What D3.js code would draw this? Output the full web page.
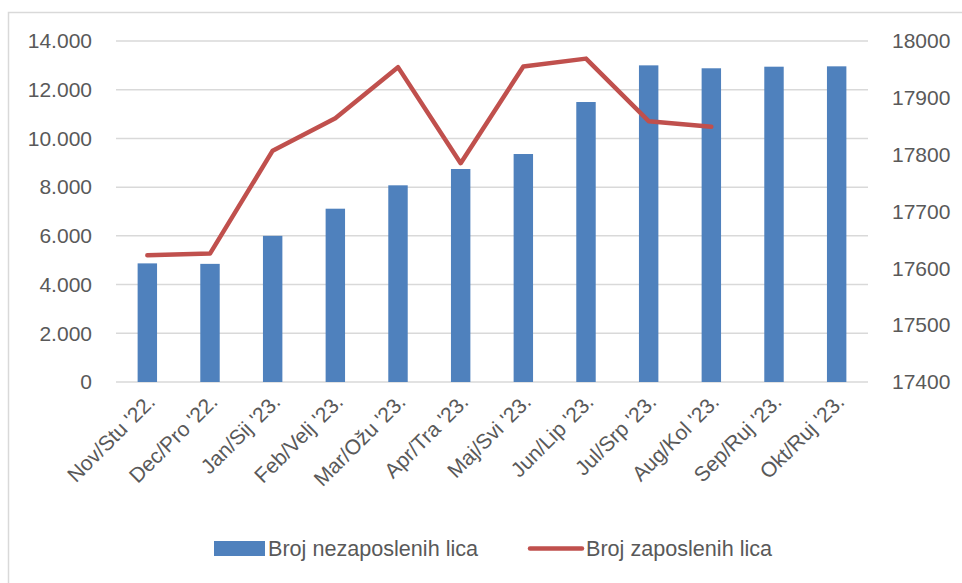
<!DOCTYPE html>
<html>
<head>
<meta charset="utf-8">
<script src="https://cdn.jsdelivr.net/npm/d3@7"></script>
<style>
  body { margin: 0; background: #fff; }
  svg { display: block; font-family: "Liberation Sans", Arial, sans-serif; }
</style>
</head>
<body>
<div id="chart"></div>
<script>
// months (Bosnian/Croatian labels)
const categories = ["Nov/Stu '22.", "Dec/Pro '22.", "Jan/Sij '23.", "Feb/Velj '23.", "Mar/Ožu '23.", "Apr/Tra '23.",
  "Maj/Svi '23.", "Jun/Lip '23.", "Jul/Srp '23.", "Aug/Kol '23.", "Sep/Ruj '23.", "Okt/Ruj '23."];
// Broj nezaposlenih lica (left axis)
const unemployed = [4870, 4850, 6000, 7115, 8075, 8745, 9360, 11495, 13000, 12880, 12945, 12960];
// Broj zaposlenih lica (right axis) - only first 10 months
const employed = [17623, 17626, 17807, 17864, 17954, 17785, 17955, 17969, 17859, 17849];
const leftTicks = [0, 2000, 4000, 6000, 8000, 10000, 12000, 14000];
const rightTicks = [17400, 17500, 17600, 17700, 17800, 17900, 18000];
const seriesNames = ["Broj nezaposlenih lica", "Broj zaposlenih lica"];

const W = 962, H = 583;
const plot = { left: 116, right: 868, top: 41, bottom: 382 };
const barColor = '#4F81BD', lineColor = '#C0504D', gridColor = '#D9D9D9', textColor = '#595959';

const svg = d3.select('#chart').append('svg')
  .attr('width', W)
  .attr('height', H);

// chart frame
svg.append('rect')
  .attr('x', 8.5).attr('y', 12.5)
  .attr('width', 1000).attr('height', 700)
  .attr('fill', 'none')
  .attr('stroke', gridColor)
  .attr('stroke-width', 1.5);

const x = d3.scaleBand().domain(categories).range([plot.left, plot.right]);
const yL = d3.scaleLinear().domain([0, 14000]).range([plot.bottom, plot.top]);
const yR = d3.scaleLinear().domain([17400, 18000]).range([plot.bottom, plot.top]);

const locale = d3.formatLocale({ decimal: ',', thousands: '.', grouping: [3], currency: ['', ''] });
const fmtL = locale.format(',d');

// gridlines
svg.append('g')
  .selectAll('line')
  .data(leftTicks)
  .join('line')
  .attr('x1', plot.left).attr('x2', plot.right)
  .attr('y1', d => yL(d)).attr('y2', d => yL(d))
  .attr('stroke', gridColor)
  .attr('stroke-width', 1.5);

// left axis
const axL = svg.append('g')
  .attr('transform', 'translate(' + plot.left + ',0)')
  .call(d3.axisLeft(yL).tickValues(leftTicks).tickFormat(fmtL).tickSize(0).tickPadding(24));
axL.select('.domain').remove();
axL.selectAll('text').attr('fill', textColor).style('font-size', '21px').style('font-family', 'Liberation Sans, Arial, sans-serif');

// right axis
const axR = svg.append('g')
  .attr('transform', 'translate(' + plot.right + ',0)')
  .call(d3.axisRight(yR).tickValues(rightTicks).tickFormat(d3.format('d')).tickSize(0).tickPadding(24));
axR.select('.domain').remove();
axR.selectAll('text').attr('fill', textColor).style('font-size', '21px').style('font-family', 'Liberation Sans, Arial, sans-serif');

// bars
const barW = x.bandwidth() * 0.31;
svg.append('g')
  .selectAll('rect')
  .data(unemployed)
  .join('rect')
  .attr('x', (d, i) => x(categories[i]) + (x.bandwidth() - barW) / 2)
  .attr('y', d => yL(d))
  .attr('width', barW)
  .attr('height', d => yL(0) - yL(d))
  .attr('fill', barColor);

// line
const line = d3.line()
  .x((d, i) => x(categories[i]) + x.bandwidth() / 2)
  .y(d => yR(d));
svg.append('path')
  .datum(employed)
  .attr('fill', 'none')
  .attr('stroke', lineColor)
  .attr('stroke-width', 4.5)
  .attr('stroke-linejoin', 'round')
  .attr('stroke-linecap', 'round')
  .attr('d', line);

// category labels
svg.append('g')
  .selectAll('text')
  .data(categories)
  .join('text')
  .attr('transform', d => 'translate(' + (x(d) + x.bandwidth() / 2 + 9) + ',' + (plot.bottom + 21) + ') rotate(-45)')
  .attr('text-anchor', 'end')
  .attr('fill', textColor)
  .style('font-size', '21px')
  .text(d => d);

// legend
const lg = svg.append('g');
lg.append('rect')
  .attr('x', 214).attr('y', 541)
  .attr('width', 51).attr('height', 15)
  .attr('fill', barColor);
lg.append('text')
  .attr('x', 268).attr('y', 556)
  .attr('fill', textColor)
  .style('font-size', '21.6px')
  .text(seriesNames[0]);
lg.append('line')
  .attr('x1', 530).attr('x2', 582)
  .attr('y1', 548.5).attr('y2', 548.5)
  .attr('stroke', lineColor)
  .attr('stroke-width', 4.5)
  .attr('stroke-linecap', 'round');
lg.append('text')
  .attr('x', 586).attr('y', 556)
  .attr('fill', textColor)
  .style('font-size', '21.6px')
  .text(seriesNames[1]);
</script>
</body>
</html>
